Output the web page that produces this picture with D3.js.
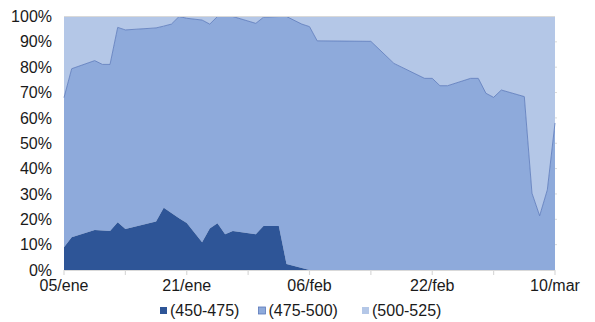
<!DOCTYPE html>
<html>
<head>
<meta charset="utf-8">
<script src="https://cdn.jsdelivr.net/npm/d3@7"></script>
<style>
  html, body { margin: 0; padding: 0; background: #fff; }
  svg { display: block; font-family: "Liberation Sans", Arial, Helvetica, sans-serif; }
</style>
</head>
<body>
<svg id="chart" width="595" height="322"></svg>
<script>
// ---- Data (percent shares per date) ----
const dates = ["2015-01-05","2015-01-06","2015-01-09","2015-01-10","2015-01-11","2015-01-12","2015-01-13",
  "2015-01-17","2015-01-18","2015-01-19","2015-01-20","2015-01-21","2015-01-23","2015-01-24","2015-01-25",
  "2015-01-26","2015-01-27","2015-01-30","2015-01-31","2015-02-02","2015-02-03","2015-02-05","2015-02-06",
  "2015-02-07","2015-02-14","2015-02-17","2015-02-21","2015-02-22","2015-02-23","2015-02-24","2015-02-27",
  "2015-02-28","2015-03-01","2015-03-02","2015-03-03","2015-03-06","2015-03-07","2015-03-08","2015-03-09",
  "2015-03-10"];
const s450_475 = [9, 12.9, 15.8, 15.6, 15.4, 18.8, 16.2,
  19.1, 24.6, 22.5, 20.4, 18.5, 10.9, 16.4, 18.4,
  14.1, 15.4, 14.1, 17.4, 17.4, 2.4, 0.8, 0,
  0, 0, 0, 0, 0, 0, 0, 0,
  0, 0, 0, 0, 0, 0, 0, 0,
  0];
const s475_500 = [59, 66.5, 66.8, 65.5, 65.7, 76.9, 78.5,
  76.4, 71.6, 74.5, 79.6, 80.8, 87.7, 80.6, 81.6,
  85.9, 84.6, 83.2, 82.3, 82.6, 97.6, 96.2, 96,
  90.4, 90.2, 81.5, 75.6, 75.6, 72.7, 72.7, 75.6,
  75.6, 69.7, 68.1, 71, 68.4, 30.3, 21.4, 31.6,
  58];
const s500_525 = [32, 20.6, 17.4, 18.9, 18.9, 4.3, 5.3,
  4.5, 3.8, 3, 0, 0.7, 1.4, 3, 0,
  0, 0, 2.7, 0.3, 0, 0, 3, 4,
  9.6, 9.8, 18.5, 24.4, 24.4, 27.3, 27.3, 24.4,
  24.4, 30.3, 31.9, 29, 31.6, 69.7, 78.6, 68.4,
  42];
const seriesNames = ["(450-475)", "(475-500)", "(500-525)"];
const yTicks = [0, 10, 20, 30, 40, 50, 60, 70, 80, 90, 100];
const xTickDates = ["2015-01-05","2015-01-21","2015-02-06","2015-02-22","2015-03-10"];
const xTickLabels = ["05/ene", "21/ene", "06/feb", "22/feb", "10/mar"];
const xMinorDates = ["2015-01-13","2015-01-29","2015-02-14","2015-03-02"];

// ---- Styles ----
const colors = ["#2e5597", "#8eaadb", "#b4c7e7"];
const outline = ["none", "#5a78ba", "none"];
const gridColor = "#d9d9d9";
const textColor = "#1a1a1a";

const parse = d3.utcParse("%Y-%m-%d");
const keys = ["a", "b", "c"];
const table = dates.map((d, i) => ({ date: parse(d), a: s450_475[i], b: s475_500[i], c: s500_525[i] }));

const svg = d3.select("#chart");
const mLeft = 64, mRight = 555, mTop = 16.5, mBottom = 270;

const x = d3.scaleUtc()
  .domain([parse("2015-01-05"), parse("2015-03-10")])
  .range([mLeft, mRight]);
const y = d3.scaleLinear().domain([0, 100]).range([mBottom, mTop]);

const stacked = d3.stack().keys(keys)(table);

const area = d3.area()
  .x(d => x(d.data.date))
  .y0(d => y(d[0]))
  .y1(d => y(d[1]));
const topLine = d3.line()
  .x(d => x(d.data.date))
  .y(d => y(d[1]));

svg.append("g").selectAll("path.area")
  .data(stacked.slice().reverse())
  .join("path")
  .attr("class", "area")
  .attr("fill", d => colors[d.index])
  .attr("d", area);

svg.append("path")
  .datum(stacked[1])
  .attr("fill", "none")
  .attr("stroke", outline[1])
  .attr("stroke-width", 0.8)
  .attr("d", topLine);

svg.append("line")
  .attr("x1", mLeft).attr("x2", mRight)
  .attr("y1", y(100)).attr("y2", y(100))
  .attr("stroke", gridColor).attr("stroke-width", 1);

svg.append("g").selectAll("line")
  .data(yTicks.slice(1, -1))
  .join("line")
  .attr("x1", mRight).attr("x2", mRight + 2)
  .attr("y1", d => y(d)).attr("y2", d => y(d))
  .attr("stroke", gridColor);

const xAxisG = svg.append("g").attr("transform", `translate(0,${mBottom})`);
xAxisG.append("line").attr("x1", mLeft).attr("x2", mRight)
  .attr("y1", 0.5).attr("y2", 0.5).attr("stroke", gridColor).attr("stroke-width", 1.2);
const allTicks = xTickDates.concat(xMinorDates).map(parse);
xAxisG.selectAll("line.tick").data(allTicks).join("line")
  .attr("class", "tick")
  .attr("x1", d => x(d)).attr("x2", d => x(d))
  .attr("y1", 0).attr("y2", 5)
  .attr("stroke", gridColor).attr("stroke-width", 1.2);
xAxisG.selectAll("text").data(xTickDates).join("text")
  .attr("x", d => x(parse(d)))
  .attr("y", 21)
  .attr("text-anchor", "middle")
  .attr("font-size", 16)
  .attr("fill", textColor)
  .text((d, i) => xTickLabels[i]);

svg.append("g").selectAll("text").data(yTicks).join("text")
  .attr("x", 52)
  .attr("y", d => y(d))
  .attr("dy", "0.35em")
  .attr("text-anchor", "end")
  .attr("font-size", 16)
  .attr("fill", textColor)
  .text(d => d + "%");

const legendX = [160, 258.5, 362];
const lg = svg.append("g").selectAll("g").data(seriesNames).join("g")
  .attr("transform", (d, i) => `translate(${legendX[i]},307)`);
lg.append("rect")
  .attr("width", 7).attr("height", 7)
  .attr("fill", (d, i) => colors[i])
  .attr("stroke", (d, i) => outline[i])
  .attr("stroke-width", 0.8);
lg.append("text")
  .attr("x", 10).attr("y", 3.5).attr("dy", "0.35em")
  .attr("font-size", 16)
  .attr("fill", textColor)
  .text(d => d);
</script>
</body>
</html>
